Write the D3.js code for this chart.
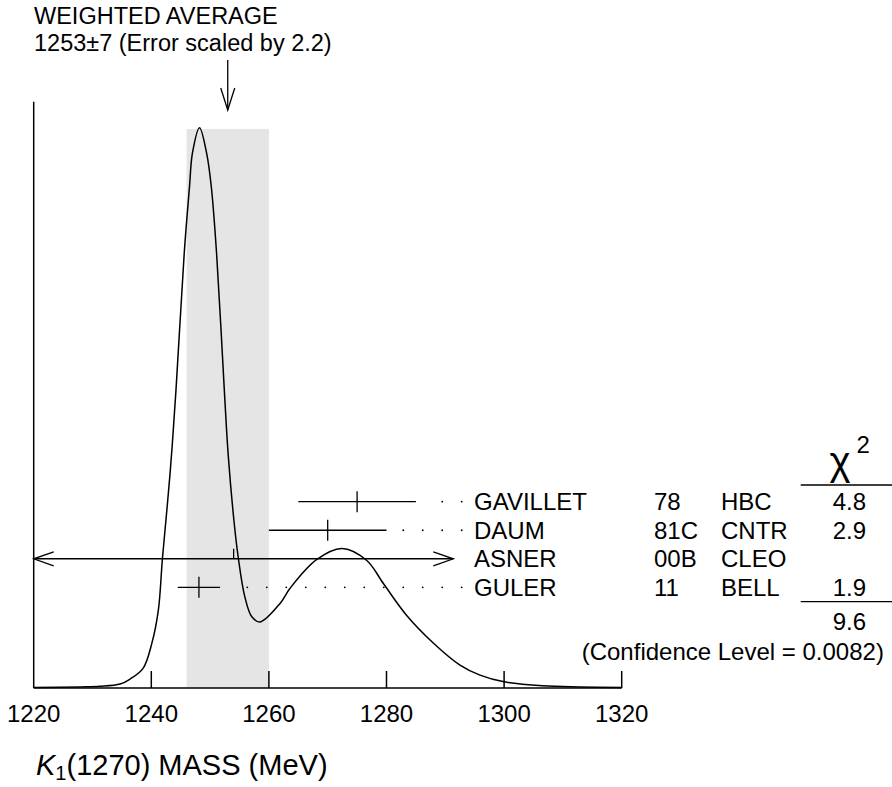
<!DOCTYPE html>
<html>
<head>
<meta charset="utf-8">
<script src="https://cdn.jsdelivr.net/npm/d3@7/dist/d3.min.js"></script>
<style>
  html, body { margin: 0; padding: 0; background: #fff; }
  svg text { font-family: "Liberation Sans", Arial, Helvetica, sans-serif; fill: #000; }
</style>
</head>
<body>
<svg id="chart" width="892" height="787"></svg>
<script>
// ---------------- data ----------------
const measurements = ["GAVILLET", "DAUM", "ASNER", "GULER"];
const years        = ["78", "81C", "00B", "11"];
const techniques   = ["HBC", "CNTR", "CLEO", "BELL"];
const values       = [1275, 1270, 1254, 1248.1];
const errors       = [10, 10, 47, 3.6];
const chi2Values   = ["4.8", "2.9", "", "1.9"];
const chi2Total    = "9.6";
const confidenceText = "(Confidence Level = 0.0082)";
const weightedAverage = 1253;
const weightedError   = 7;
const titleLines = ["WEIGHTED AVERAGE", "1253\u00b17 (Error scaled by 2.2)"];
const xTicks = [1220, 1240, 1260, 1280, 1300, 1320];

// ideogram curve (mass in MeV, relative height)
const ideogramMass = [1220.0, 1227.9, 1231.3, 1234.7, 1236.4, 1238.6, 1240.1, 1241.2, 1241.9, 1243.2,
  1244.2, 1245.6, 1246.5, 1247.0, 1248.2, 1249.4, 1250.2, 1251.1, 1252.5, 1253.1,
  1254.1, 1254.8, 1255.9, 1257.1, 1258.5, 1261.9, 1263.6, 1268.1, 1272.4, 1276.6,
  1279.5, 1283.4, 1288.0, 1292.5, 1295.9, 1300.0, 1306.6, 1312.9, 1320.0];
const ideogramHeight = [0.001, 0.002, 0.003, 0.007, 0.016, 0.035, 0.080, 0.139, 0.232, 0.384,
  0.532, 0.776, 0.895, 0.955, 1.000, 0.955, 0.895, 0.776, 0.516, 0.413,
  0.294, 0.232, 0.163, 0.127, 0.118, 0.151, 0.178, 0.229, 0.249, 0.228,
  0.186, 0.130, 0.080, 0.041, 0.023, 0.011, 0.004, 0.002, 0.001];

// ---------------- layout ----------------
const svg = d3.select("#chart");
const FONT = 24;
const x = d3.scaleLinear().domain([1220, 1320]).range([33.7, 621.7]);
const y = d3.scaleLinear().domain([0, 1]).range([688, 127.7]);
const rowY = d3.scalePoint().domain(measurements).range([501.7, 587.3]);
const baseY = y(0);
const plotTop = 101.7;
const rightLimit = 453.3;      // error bars are clipped before the label column
const dotEnd = 461.7, dotStep = 19.49;
const labelX = 474, yearX = 654, techX = 721, chiRightX = 866;

// shaded band (weighted average ± error)
svg.append("rect")
  .attr("x", x(weightedAverage - weightedError))
  .attr("width", x(weightedAverage + weightedError) - x(weightedAverage - weightedError))
  .attr("y", 129)
  .attr("height", baseY - 129)
  .attr("fill", "#e5e5e5");

// axes
const axisG = svg.append("g").attr("stroke", "#000").attr("stroke-width", 1.5).attr("fill", "none");
axisG.append("line").attr("x1", x(1220)).attr("x2", x(1220)).attr("y1", plotTop).attr("y2", baseY);
axisG.append("line").attr("x1", x(1220)).attr("x2", x(1320)).attr("y1", baseY).attr("y2", baseY);
axisG.selectAll("line.tick").data(xTicks.slice(1)).enter().append("line")
  .attr("class", "tick")
  .attr("x1", d => x(d)).attr("x2", d => x(d))
  .attr("y1", baseY).attr("y2", baseY - 17);

svg.selectAll("text.xtick").data(xTicks).enter().append("text")
  .attr("class", "xtick")
  .attr("x", d => x(d)).attr("y", 721.5)
  .attr("text-anchor", "middle")
  .attr("font-size", FONT)
  .text(d => d);

// ideogram curve
const curvePts = ideogramMass.map((m, i) => [m, ideogramHeight[i]]);
svg.append("path")
  .datum(curvePts)
  .attr("fill", "none")
  .attr("stroke", "#000")
  .attr("stroke-width", 1.5)
  .attr("d", d3.line().x(d => x(d[0])).y(d => Math.min(y(d[1]), baseY - 0.5)).curve(d3.curveCatmullRom.alpha(0.5)));

// weighted average arrow
const wx = x(weightedAverage);
const arr = svg.append("g").attr("stroke", "#000").attr("stroke-width", 1.3).attr("fill", "none");
arr.append("line").attr("x1", wx).attr("x2", wx).attr("y1", 60).attr("y2", 110);
arr.append("polyline").attr("points", `${wx - 7},${88} ${wx},${110} ${wx + 7},${88}`);

// title
svg.selectAll("text.title").data(titleLines).enter().append("text")
  .attr("class", "title")
  .attr("x", 34).attr("y", (d, i) => 23.5 + i * 27)
  .attr("font-size", 23.5)
  .text(d => d);

// measurements
const mG = svg.append("g").attr("stroke", "#000").attr("stroke-width", 1.3).attr("fill", "none");
measurements.forEach((name, i) => {
  const cy = rowY(name);
  const lo = values[i] - errors[i], hi = values[i] + errors[i];
  const leftClipped = lo < 1220;
  const rightClipped = x(hi) > rightLimit;
  const x1 = leftClipped ? x(1220) : x(lo);
  const x2 = rightClipped ? rightLimit : x(hi);
  mG.append("line").attr("x1", x1).attr("x2", x2).attr("y1", cy).attr("y2", cy);
  if (leftClipped) {
    mG.append("polyline").attr("points", `${x1 + 20},${cy - 7} ${x1},${cy} ${x1 + 20},${cy + 7}`);
  }
  if (rightClipped) {
    mG.append("polyline").attr("points", `${x2 - 20},${cy - 7} ${x2},${cy} ${x2 - 20},${cy + 7}`);
  }
  const cx = x(values[i]);
  if (leftClipped || rightClipped) {
    mG.append("line").attr("x1", cx).attr("x2", cx).attr("y1", cy - 10).attr("y2", cy);
  } else {
    mG.append("line").attr("x1", cx).attr("x2", cx).attr("y1", cy - 10.5).attr("y2", cy + 10.5);
    // dotted leader to the label
    const dots = [];
    for (let p = dotEnd; p > x2 + 10; p -= dotStep) dots.push(p);
    svg.selectAll(null).data(dots).enter().append("circle")
      .attr("cx", d => d).attr("cy", cy).attr("r", 0.9).attr("fill", "#000");
  }
  const base = cy + 8.6;
  svg.append("text").attr("x", labelX).attr("y", base).attr("font-size", FONT).text(name);
  svg.append("text").attr("x", yearX).attr("y", base).attr("font-size", FONT).text(years[i]);
  svg.append("text").attr("x", techX).attr("y", base).attr("font-size", FONT).text(techniques[i]);
  if (chi2Values[i]) {
    svg.append("text").attr("x", chiRightX).attr("y", base).attr("text-anchor", "end")
      .attr("font-size", FONT).text(chi2Values[i]);
  }
});

// chi^2 header and totals
svg.append("text").attr("x", 840).attr("y", 475).attr("text-anchor", "middle")
  .attr("font-family", "Liberation Serif, serif").attr("font-size", 40).text("\u03c7");
svg.append("text").attr("x", 856.5).attr("y", 453).attr("font-size", 24).text("2");
const sepG = svg.append("g").attr("stroke", "#000").attr("stroke-width", 1.3);
sepG.append("line").attr("x1", 800.7).attr("x2", 892).attr("y1", 485).attr("y2", 485);
sepG.append("line").attr("x1", 800.7).attr("x2", 892).attr("y1", 601.7).attr("y2", 601.7);
svg.append("text").attr("x", chiRightX).attr("y", 630.3).attr("text-anchor", "end")
  .attr("font-size", FONT).text(chi2Total);
svg.append("text").attr("x", 581.7).attr("y", 660.3).attr("font-size", FONT).text(confidenceText);

// x axis title
const xt = svg.append("text").attr("x", 36).attr("y", 775)
  .attr("font-family", "DejaVu Sans, sans-serif").attr("font-size", 29);
xt.append("tspan").attr("font-style", "italic").text("K");
xt.append("tspan").attr("dy", 5).attr("font-size", 20).text("1");
xt.append("tspan").attr("dy", -5).text("(1270) MASS (MeV)");
</script>
</body>
</html>
